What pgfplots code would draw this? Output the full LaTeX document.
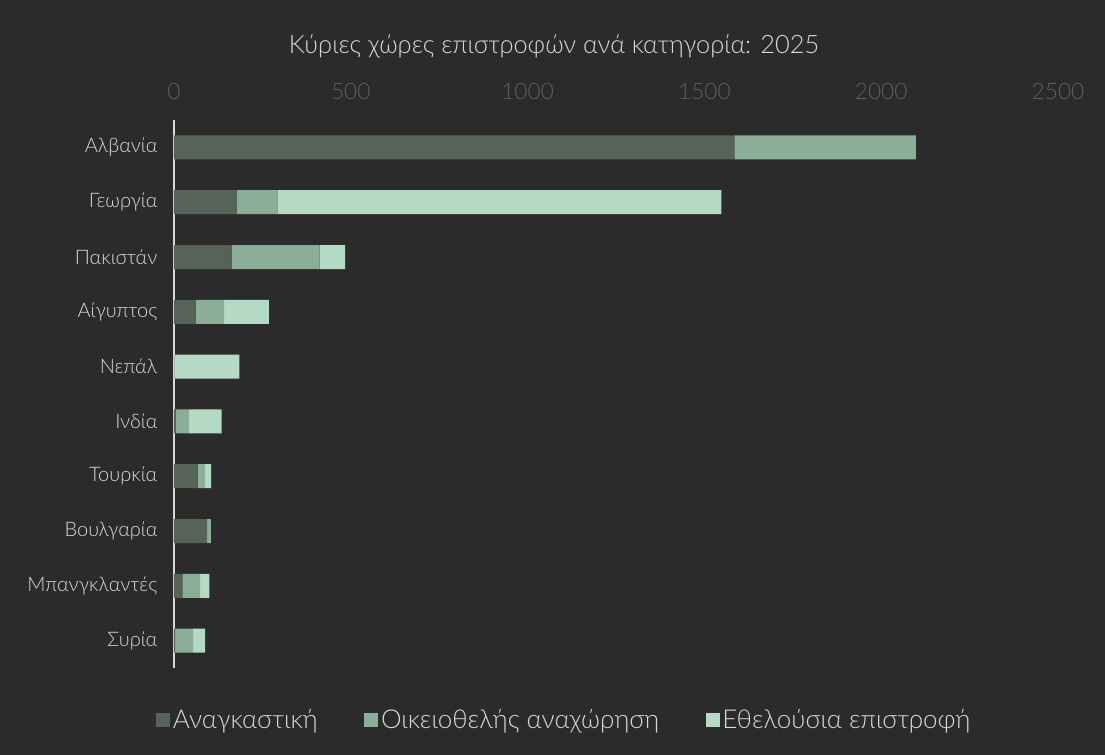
\documentclass[border=0pt]{standalone}
\usepackage{pgfplots}
\pgfplotsset{compat=1.18}
\usepackage{fontspec}
\setmainfont{Lato Light}

\definecolor{bg}{HTML}{2B2B2B}
\definecolor{cA}{HTML}{566358}
\definecolor{cB}{HTML}{8AAE98}
\definecolor{cC}{HTML}{B4D9C4}
\definecolor{txt}{HTML}{D9D9D9}
\definecolor{tick}{HTML}{5E5E5E}

\pgfplotstableread{
c    anag  oik   eth
0    1585  513   0
1    178   114   1256
2    163   249   72
3    61    81    126
4    0     2     183
5    5     38    92
6    67    20    18
7    94    10    0
8    24    50    26
9    3     51    34
}\ret

\begin{document}
\begin{tikzpicture}
\fill[bg] (-130.5pt,-65.25pt) rectangle (698.25pt,501pt);
\node[text=txt,font=\fontsize{19}{22}\selectfont] at (285pt,466pt) {Κύριες χώρες επιστροφών ανά κατηγορία: 2025};
\begin{axis}[
  at={(0,0)}, anchor=south west,
  scale only axis,
  width=663pt, height=411pt,
  xbar stacked,
  bar width=18pt,
  xmin=0, xmax=2500,
  ymin=-0.5, ymax=9.5,
  y dir=reverse,
  xtick={0,500,...,2500},
  ytick={0,...,9},
  yticklabels={Αλβανία,Γεωργία,Πακιστάν,Αίγυπτος,Νεπάλ,Ινδία,Τουρκία,Βουλγαρία,Μπανγκλαντές,Συρία},
  axis x line*=top,
  axis y line*=left,
  x axis line style={draw=none},
  y axis line style={draw=txt, line width=1pt, -},
  tick style={draw=none},
  /pgf/number format/assume math mode=true,
  /pgf/number format/1000 sep={},
  xticklabel style={text=tick, font=\fontsize{17}{20}\selectfont, yshift=12pt},
  yticklabel style={text=txt, font=\fontsize{15}{18}\selectfont, xshift=-9pt},
  legend style={at={(0.442,-0.095)}, anchor=center, draw=none, fill=none,
    text=txt, font=\fontsize{19.5}{22}\selectfont, legend columns=3,
    /tikz/every even column/.append style={column sep=33pt}},
  legend image code/.code={\fill[#1,draw=none] (0pt,-5pt) rectangle (10.5pt,5.5pt);},
]
\addplot[fill=cA, draw=none] table[x=anag, y=c] {\ret};
\addplot[fill=cB, draw=none] table[x=oik, y=c] {\ret};
\addplot[fill=cC, draw=none] table[x=eth, y=c] {\ret};
\legend{Αναγκαστική, Οικειοθελής αναχώρηση, Εθελούσια επιστροφή}
\end{axis}
\end{tikzpicture}
\end{document}
